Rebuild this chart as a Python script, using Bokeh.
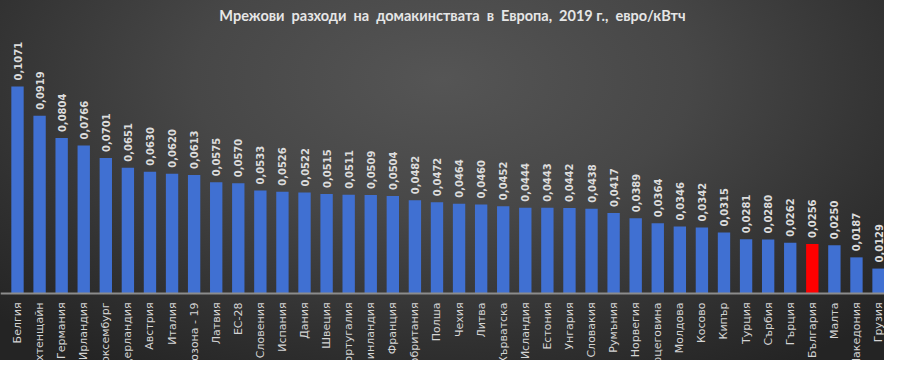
import numpy as np
from bokeh.plotting import figure
from bokeh.models import ColumnDataSource, Span, Label, InlineStyleSheet
from bokeh.core.properties import value
from bokeh.embed import file_html
from bokeh.resources import INLINE

countries = ["Белгия", "Лихтенщайн", "Германия", "Ирландия", "Люксембург",
             "Нидерландия", "Австрия", "Италия", "Еврозона - 19", "Латвия",
             "ЕС-28", "Словения", "Испания", "Дания", "Швеция",
             "Португалия", "Финландия", "Франция", "Великобритания", "Полша",
             "Чехия", "Литва", "Хърватска", "Исландия", "Естония",
             "Унгария", "Словакия", "Румъния", "Норвегия", "Босна и Херцеговина",
             "Молдова", "Косово", "Кипър", "Турция", "Сърбия",
             "Гърция", "България", "Малта", "Македония", "Грузия"]
costs = [0.1071, 0.0919, 0.0804, 0.0766, 0.0701,
         0.0651, 0.0630, 0.0620, 0.0613, 0.0575,
         0.0570, 0.0533, 0.0526, 0.0522, 0.0515,
         0.0511, 0.0509, 0.0504, 0.0482, 0.0472,
         0.0464, 0.0460, 0.0452, 0.0444, 0.0443,
         0.0442, 0.0438, 0.0417, 0.0389, 0.0364,
         0.0346, 0.0342, 0.0315, 0.0281, 0.0280,
         0.0262, 0.0256, 0.0250, 0.0187, 0.0129]
highlight = "България"
title_words = ["Мрежови", "разходи", "на", "домакинствата", "в", "Европа,", "2019 г.,", "евро/кВтч"]

BLUE = "#4070d2"
RED = "#ff0000"

idx = list(range(len(countries)))
colors = [RED if c == highlight else BLUE for c in countries]
labels = [f"{v:.4f}".replace(".", ",") for v in costs]

src = ColumnDataSource(dict(x=idx, top=costs, color=colors, lab=labels,
                            name=countries, zero=[0.0] * len(idx)))

css = InlineStyleSheet(css=""":host { background: radial-gradient(ellipse 70% 95% at 50% 22%, #555555 0%, #474747 40%, #303030 78%, #242424 100%); }""")

p = figure(width=884, height=360, x_range=(-0.770, 39.27), y_range=(-0.03466, 0.15158),
           output_backend="svg", toolbar_location=None, min_border=0,
           background_fill_alpha=0, border_fill_alpha=0, outline_line_color=None)
p.stylesheets = [css]
p.axis.visible = False
p.grid.visible = False

p.vbar(x="x", top="top", width=0.56, fill_color="color", line_color=None, source=src)

p.add_layout(Span(location=0, dimension="width", line_color="#8c8c8c", line_width=2))

p.text(x="x", y="top", text="lab", source=src, angle=np.pi / 2,
       text_align="left", text_baseline="middle", y_offset=-6,
       text_font=value("DejaVu Sans"), text_font_style="bold",
       text_font_size="10px", text_color="#dcdcdc")

p.text(x="x", y="zero", text="name", source=src, angle=np.pi / 2,
       text_align="right", text_baseline="middle", y_offset=9,
       text_font=value("DejaVu Sans"), text_font_size="11px",
       text_color="#d4d4d4")

p.add_layout(Label(x=452, y=345, x_units="screen", y_units="screen",
                   text="\u00a0 ".join(title_words), text_align="center", text_baseline="middle",
                   text_font="Lato", text_font_style="bold",
                   text_font_size="14.5px", text_color="#e6e6e6"))

open("out.html", "w").write(file_html(p, INLINE))
